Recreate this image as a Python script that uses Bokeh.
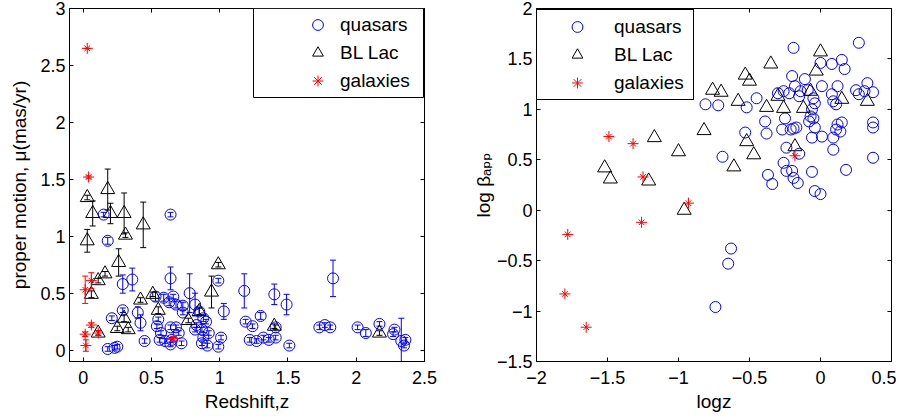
import numpy as np
from bokeh.plotting import figure
from bokeh.models import (ColumnDataSource, Range1d, FixedTicker, LinearAxis, Legend,
                          LegendItem, BoxAnnotation, CustomJSTickFormatter,
                          CustomLabelingPolicy)
from bokeh.layouts import row
from bokeh.embed import file_html
from bokeh.resources import INLINE

# ---------------- left panel: redshift z vs proper motion mu (mas/yr) ----------------
QSO_Z = [0.15, 0.64, 0.18, 0.29, 0.36, 0.64, 0.99, 0.78, 1.18, 1.40, 1.49, 1.83, 1.03,
         0.53, 0.59, 0.63, 0.66, 0.68, 0.73, 0.73, 0.82, 0.85, 0.88, 0.90,
         0.21, 0.29, 0.40, 0.42, 0.45, 0.18, 0.23, 0.25,
         0.55, 0.54, 0.57, 0.56, 0.60, 0.64, 0.64, 0.68, 0.72, 0.65, 0.70,
         0.83, 0.82, 0.87, 0.92, 0.88, 0.91, 1.01, 0.99, 0.87,
         1.19, 1.24, 1.22, 1.27, 1.30, 1.32, 1.36, 1.41, 1.41, 1.51,
         1.73, 1.77, 1.81, 2.01, 2.07, 2.17, 2.28, 2.27, 2.33, 2.36, 2.35]
QSO_MU = [1.19, 1.19, 0.96, 0.58, 0.62, 0.63, 0.61, 0.50, 0.52, 0.49, 0.40, 0.63, 0.34,
          0.47, 0.46, 0.42, 0.47, 0.40, 0.39, 0.33, 0.40, 0.34, 0.28, 0.25,
          0.28, 0.35, 0.33, 0.24, 0.08, 0.01, 0.02, 0.03,
          0.27, 0.21, 0.15, 0.09, 0.08, 0.20, 0.05, 0.20, 0.06, 0.09, 0.15,
          0.22, 0.18, 0.18, 0.15, 0.11, 0.04, 0.11, 0.03, 0.06,
          0.25, 0.21, 0.09, 0.08, 0.30, 0.11, 0.09, 0.20, 0.11, 0.04,
          0.20, 0.22, 0.20, 0.20, 0.15, 0.23, 0.18, 0.14, 0.08, 0.09, 0.04]
QSO_ERR = [0.02, 0.02, 0.03, 0.08, 0.10, 0.10, 0.02, 0.17, 0.15, 0.09, 0.09, 0.16, 0.07,
           0.04, 0.03, 0.03, 0.02, 0.03, 0.03, 0.02, 0.10, 0.03, 0.03, 0.02,
           0.02, 0.02, 0.05, 0.07, 0.02, 0.02, 0.02, 0.02,
           0.02, 0.02, 0.02, 0.02, 0.02, 0.02, 0.02, 0.02, 0.02, 0.02, 0.02,
           0.02, 0.02, 0.02, 0.02, 0.02, 0.02, 0.02, 0.02, 0.02,
           0.02, 0.02, 0.02, 0.02, 0.03, 0.02, 0.02, 0.02, 0.02, 0.02,
           0.02, 0.02, 0.02, 0.02, 0.03, 0.02, 0.02, 0.02, 0.20, 0.02, 0.02]

BLL_Z = [0.03, 0.07, 0.18, 0.20, 0.30, 0.31, 0.44, 0.03, 0.26, 0.16, 0.11, 0.06, 0.99,
         0.94, 0.42, 0.51, 0.55, 0.77, 0.85, 0.30, 0.25, 0.33, 0.11, 1.40, 2.17]
BLL_MU = [1.34, 1.20, 1.41, 1.20, 1.20, 1.01, 1.10, 0.96, 0.77, 0.67, 0.61, 0.49, 0.75,
          0.51, 0.44, 0.49, 0.35, 0.26, 0.34, 0.28, 0.19, 0.18, 0.15, 0.21, 0.15]
BLL_ERR = [0.02, 0.11, 0.18, 0.09, 0.18, 0.02, 0.20, 0.10, 0.12, 0.02, 0.02, 0.03, 0.02,
           0.14, 0.02, 0.02, 0.03, 0.02, 0.03, 0.03, 0.02, 0.02, 0.02, 0.02, 0.02]

GAL_Z = [0.03, 0.04, 0.06, 0.015, 0.06, 0.015, 0.02, 0.11, 0.66]
GAL_MU = [2.65, 1.52, 0.61, 0.53, 0.22, 0.14, 0.04, 0.15, 0.10]
GAL_ERR = [0.0, 0.01, 0.07, 0.12, 0.02, 0.02, 0.05, 0.02, 0.02]

# ---------------- right panel: log z vs log beta_app ----------------
QSO_LOGZ = [0.27, -0.19, 0.15, 0.17, 0.08, 0.00, -0.20, -0.11, -0.18, -0.26, -0.22, -0.30,
            -0.14, -0.09, 0.01, 0.12, 0.08, 0.33, 0.25, 0.31, 0.37, 0.27, -0.15, -0.05,
            -0.04, 0.09, 0.11, -0.45, -0.81, -0.72, -0.52, -0.06, -0.07, -0.05, -0.08, -0.25,
            -0.39, -0.04, -0.17, -0.19, -0.21, -0.27, 0.15, 0.12, 0.11, 0.14, 0.09, 0.01,
            -0.06, 0.37, 0.37, -0.38, -0.53, 0.09, -0.24, -0.15, -0.69, 0.37, -0.26, -0.24,
            -0.20, -0.19, -0.37, -0.34, -0.16, -0.06, 0.18, -0.04, 0.00, -0.63, -0.65, -0.74]
QSO_LOGB = [1.66, 1.61, 1.49, 1.40, 1.45, 1.46, 1.33, 1.30, 1.23, 1.18, 1.16, 1.16,
            1.18, 1.19, 1.23, 1.23, 1.15, 1.26, 1.19, 1.18, 1.17, 1.15, 1.13, 1.11,
            1.06, 1.08, 1.05, 1.11, 1.05, 1.04, 1.02, 1.00, 0.93, 0.91, 0.88, 0.91,
            0.88, 0.82, 0.82, 0.81, 0.80, 0.80, 0.87, 0.85, 0.80, 0.78, 0.72, 0.73,
            0.72, 0.87, 0.82, 0.76, 0.77, 0.60, 0.62, 0.56, 0.53, 0.52, 0.47, 0.39,
            0.39, 0.32, 0.35, 0.26, 0.27, 0.38, 0.40, 0.19, 0.16, -0.38, -0.53, -0.96]

BLL_LOGZ = [0.00, -0.03, -0.35, -0.53, -0.50, -0.76, -0.70, -0.07, -0.30, -0.58, -0.38, -0.26,
            -0.12, 0.15, 0.33, -0.82, -0.52, -0.47, -0.61, -0.18, -1.17, -1.00, -1.52, -1.48,
            -1.21, -0.96]
BLL_LOGB = [1.57, 1.38, 1.45, 1.34, 1.28, 1.19, 1.17, 1.18, 1.13, 1.08, 1.02, 1.01,
            1.01, 1.10, 1.08, 0.79, 0.68, 0.55, 0.43, 0.63, 0.72, 0.58, 0.42, 0.31,
            0.29, 0.00]

GAL_LOGZ = [-1.49, -1.32, -1.25, -1.26, -0.93, -1.78, -1.80, -1.65, -0.18]
GAL_LOGB = [0.73, 0.66, 0.33, -0.12, 0.07, -0.24, -0.83, -1.16, 0.54]

SERIES = ["quasars", "BL Lac", "galaxies"]

LEFT_X_TICKS = [0, 0.5, 1, 1.5, 2, 2.5]
LEFT_X_LABELS = ["0", "0.5", "1", "1.5", "2", "2.5"]
LEFT_Y_TICKS = [0, 0.5, 1, 1.5, 2, 2.5, 3]
LEFT_Y_LABELS = ["0", "0.5", "1", "1.5", "2", "2.5", "3"]
RIGHT_X_TICKS = [-2, -1.5, -1, -0.5, 0, 0.5]
RIGHT_X_LABELS = ["\u22122", "\u22121.5", "\u22121", "\u22120.5", "0", "0.5"]
RIGHT_Y_TICKS = [-1.5, -1, -0.5, 0, 0.5, 1, 1.5, 2]
RIGHT_Y_LABELS = ["\u22121.5", "\u22121", "\u22120.5", "0", "0.5", "1", "1.5", "2"]

FONT = "Liberation Sans"
BLUE = "#0000ff"
RED = "#ff0000"
BLACK = "#000000"


def fmt(ticks, labels):
    return CustomJSTickFormatter(args=dict(tvals=ticks, tlabels=labels), code="""
for (let i = 0; i < tvals.length; i++) {
  if (Math.abs(tvals[i] - tick) < 1e-9) { return tlabels[i]; }
}
return "";
""")


def style_axis(ax, ticks, labels, standoff, label_standoff):
    ax.ticker = FixedTicker(ticks=ticks)
    ax.formatter = fmt(ticks, labels)
    ax.major_tick_in = 4
    ax.major_tick_out = 0
    ax.minor_tick_in = 0
    ax.minor_tick_out = 0
    ax.axis_line_color = BLACK
    ax.major_tick_line_color = BLACK
    ax.major_label_text_font = FONT
    ax.major_label_text_font_size = "18px"
    ax.major_label_text_color = BLACK
    ax.major_label_standoff = standoff
    ax.axis_label_text_font = FONT
    ax.axis_label_text_font_size = "19px"
    ax.axis_label_text_font_style = "normal"
    ax.axis_label_text_color = BLACK
    ax.axis_label_standoff = label_standoff


def mirror_axis(ticks):
    ax = LinearAxis(ticker=FixedTicker(ticks=ticks))
    ax.major_tick_in = 4
    ax.major_tick_out = 0
    ax.minor_tick_in = 0
    ax.minor_tick_out = 0
    ax.major_label_text_font_size = "0px"
    ax.major_label_standoff = 0
    ax.major_label_policy = CustomLabelingPolicy(code="""
const all = Array.from(indices);
for (const i of all) { indices.unset(i); }
return indices;
""")
    ax.axis_line_color = BLACK
    ax.major_tick_line_color = BLACK
    return ax


def make_fig(xr, yr, xt, xl, yt, yl, xlabel, ylabel, bl, br, ylabel_standoff):
    p = figure(frame_width=355, frame_height=353, x_range=Range1d(*xr), y_range=Range1d(*yr),
               output_backend="svg", toolbar_location=None,
               min_border_left=bl, min_border_right=br, min_border_top=8, min_border_bottom=45,
               background_fill_color="white", border_fill_color="white")
    p.grid.visible = False
    p.outline_line_color = BLACK
    style_axis(p.xaxis[0], xt, xl, 9, 4)
    style_axis(p.yaxis[0], yt, yl, 4, ylabel_standoff)
    p.xaxis[0].axis_label = xlabel
    p.yaxis[0].axis_label = ylabel
    p.add_layout(mirror_axis(xt), "above")
    p.add_layout(mirror_axis(yt), "right")
    return p


def errorbars(p, src, color):
    p.segment(x0="x", y0="lo", x1="x", y1="hi", source=src, line_color=color, line_width=1)
    p.scatter(x="x", y="lo", marker="dash", size=6, line_color=color, line_width=1, source=src)
    p.scatter(x="x", y="hi", marker="dash", size=6, line_color=color, line_width=1, source=src)


def make_src(x, y, e=None):
    x = np.asarray(x, float)
    y = np.asarray(y, float)
    d = dict(x=x, y=y)
    if e is not None:
        e = np.asarray(e, float)
        d["lo"] = y - e
        d["hi"] = y + e
    return ColumnDataSource(d)


def add_series(p, sq, sb, sg, with_err):
    if with_err:
        errorbars(p, sq, BLUE)
    rq = p.scatter(x="x", y="y", marker="circle", size=11, fill_color=None,
                   line_color=BLUE, line_width=1, source=sq)
    if with_err:
        errorbars(p, sb, BLACK)
    rb = p.scatter(x="x", y="y", marker="triangle", size=14, fill_color=None,
                   line_color=BLACK, line_width=1, source=sb)
    if with_err:
        errorbars(p, sg, RED)
    rg1 = p.scatter(x="x", y="y", marker="cross", size=11, line_color=RED, line_width=1, source=sg)
    rg2 = p.scatter(x="x", y="y", marker="x", size=8, line_color=RED, line_width=1, source=sg)
    return [[rq], [rb], [rg1, rg2]]


def add_legend(p, rends, loc, glyph_w, standoff, label_w, framed):
    items = [LegendItem(label=n, renderers=r) for n, r in zip(SERIES, rends)]
    lg = Legend(items=items, location=loc, orientation="vertical",
                glyph_width=glyph_w, glyph_height=27, label_height=27, label_width=label_w,
                label_standoff=standoff, padding=3, spacing=1, margin=0,
                border_line_color=BLACK, border_line_width=1,
                border_line_alpha=1.0 if framed else 0.0,
                background_fill_color="white", background_fill_alpha=1.0 if framed else 0.0,
                label_text_font=FONT, label_text_font_size="19px", label_text_color=BLACK,
                label_text_baseline="middle")
    p.add_layout(lg)


# left figure
p1 = make_fig((-0.1, 2.5), (-0.1, 3), LEFT_X_TICKS, LEFT_X_LABELS, LEFT_Y_TICKS, LEFT_Y_LABELS,
              "Redshift,z", "proper motion, \u03bc(mas/yr)", 69, 37, 7)
r1 = add_series(p1, make_src(QSO_Z, QSO_MU, QSO_ERR), make_src(BLL_Z, BLL_MU, BLL_ERR),
                make_src(GAL_Z, GAL_MU, GAL_ERR), True)
# legend frame (screen units relative to the plot frame) with the entries placed inside it
p1.add_layout(BoxAnnotation(left=184, right=354, bottom=264, top=353,
                            left_units="screen", right_units="screen",
                            bottom_units="screen", top_units="screen",
                            fill_color="white", fill_alpha=1.0,
                            line_color=BLACK, line_width=1, line_alpha=1.0))
add_legend(p1, r1, (232, 264), 27, 9, 60, False)

# right figure
p2 = make_fig((-2, 0.5), (-1.5, 2), RIGHT_X_TICKS, RIGHT_X_LABELS, RIGHT_Y_TICKS, RIGHT_Y_LABELS,
              "logz", "log \u03b2\u2090\u209a\u209a", 75, 5, 0)
p2.yaxis[0].axis_label_text_font = "Liberation Sans, DejaVu Sans"
r2 = add_series(p2, make_src(QSO_LOGZ, QSO_LOGB), make_src(BLL_LOGZ, BLL_LOGB),
                make_src(GAL_LOGZ, GAL_LOGB), False)
add_legend(p2, r2, (0, 261), 74, 0, 76, True)

layout = row(p1, p2)
open("out.html", "w").write(file_html(layout, INLINE))
